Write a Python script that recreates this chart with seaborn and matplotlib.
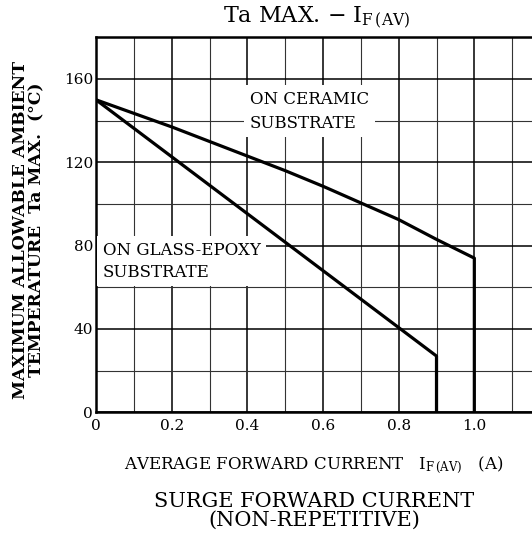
import numpy as np
import pandas as pd
import matplotlib
matplotlib.use("Agg")
import matplotlib.pyplot as plt
import seaborn as sns
from matplotlib.ticker import MultipleLocator

# data
ceramic_x = [0.0, 0.2, 0.4, 0.5, 0.6, 0.7, 0.8, 0.9, 1.0, 1.0]
ceramic_y = [150, 137, 123, 116, 108.5, 100.5, 92.5, 83, 74, 0]
epoxy_x = [0.0, 0.9, 0.9]
epoxy_y = [150, 27, 0]

x_ticks = [0, 0.2, 0.4, 0.6, 0.8, 1.0]
x_ticklabels = ["0", "0.2", "0.4", "0.6", "0.8", "1.0"]
y_ticks = [0, 40, 80, 120, 160]
y_ticklabels = ["0", "40", "80", "120", "160"]

sns.set_style("white", {"text.color": "black", "xtick.color": "black",
                        "ytick.color": "black", "axes.labelcolor": "black"})
plt.rcParams["font.family"] = ["DejaVu Serif"]
plt.rcParams["mathtext.fontset"] = "dejavuserif"

fig = plt.figure(figsize=(5.32, 5.33), dpi=100)
ax = fig.add_axes([96 / 532, 1 - 412.3 / 533, (550 - 96) / 532, 375 / 533])

df_c = pd.DataFrame({"x": ceramic_x, "y": ceramic_y})
df_e = pd.DataFrame({"x": epoxy_x, "y": epoxy_y})
sns.lineplot(data=df_c, x="x", y="y", sort=False, estimator=None, color="black", lw=2.3, ax=ax, zorder=5)
sns.lineplot(data=df_e, x="x", y="y", sort=False, estimator=None, color="black", lw=2.3, ax=ax, zorder=5)

ax.set_xlim(0, 1.2)
ax.set_ylim(0, 180)
ax.set_xticks(x_ticks)
ax.set_xticklabels(x_ticklabels, fontsize=11)
ax.set_yticks(y_ticks)
ax.set_yticklabels(y_ticklabels, fontsize=11)
ax.xaxis.set_minor_locator(MultipleLocator(0.1))
ax.yaxis.set_minor_locator(MultipleLocator(20))
ax.tick_params(which="both", length=0)
ax.tick_params(axis="x", pad=5)
ax.tick_params(axis="y", pad=2)
ax.grid(which="major", color="black", lw=1.1)
ax.grid(which="minor", color="#333333", lw=0.8)
ax.set_axisbelow(True)
for s in ax.spines.values():
    s.set_color("black")
    s.set_linewidth(1.8)
ax.set_xlabel("")
ax.set_ylabel("")

box = dict(facecolor="white", edgecolor="none", pad=4)
ax.text(0.407, 144.5, "ON CERAMIC\nSUBSTRATE", fontsize=12, ha="left", va="center",
        linespacing=1.55, bbox=box, zorder=4)
ax.text(0.018, 72.5, "ON GLASS-EPOXY\nSUBSTRATE", fontsize=12, ha="left", va="center",
        linespacing=1.35, bbox=box, zorder=4)

fig.text(317 / 532, 1 - 18 / 533, r"Ta MAX. $-$ I$_{\rm F\,(AV)}$", fontsize=16,
         ha="center", va="center")
fig.text(29 / 532, 1 - 230 / 533, "MAXIMUM ALLOWABLE AMBIENT\nTEMPERATURE  Ta MAX.  (\u00b0C)",
         rotation=90, fontsize=12.3, fontweight="bold", ha="center", va="center",
         linespacing=0.95)
fig.text(314 / 532, 1 - 465 / 533, r"AVERAGE FORWARD CURRENT   I$_{\rm F\,(AV)}$   (A)",
         fontsize=12, ha="center", va="center")
fig.text(314 / 532, 1 - 511 / 533, "SURGE FORWARD CURRENT\n(NON-REPETITIVE)",
         fontsize=15, ha="center", va="center", linespacing=0.95)

fig.savefig("out.png", dpi=100)
